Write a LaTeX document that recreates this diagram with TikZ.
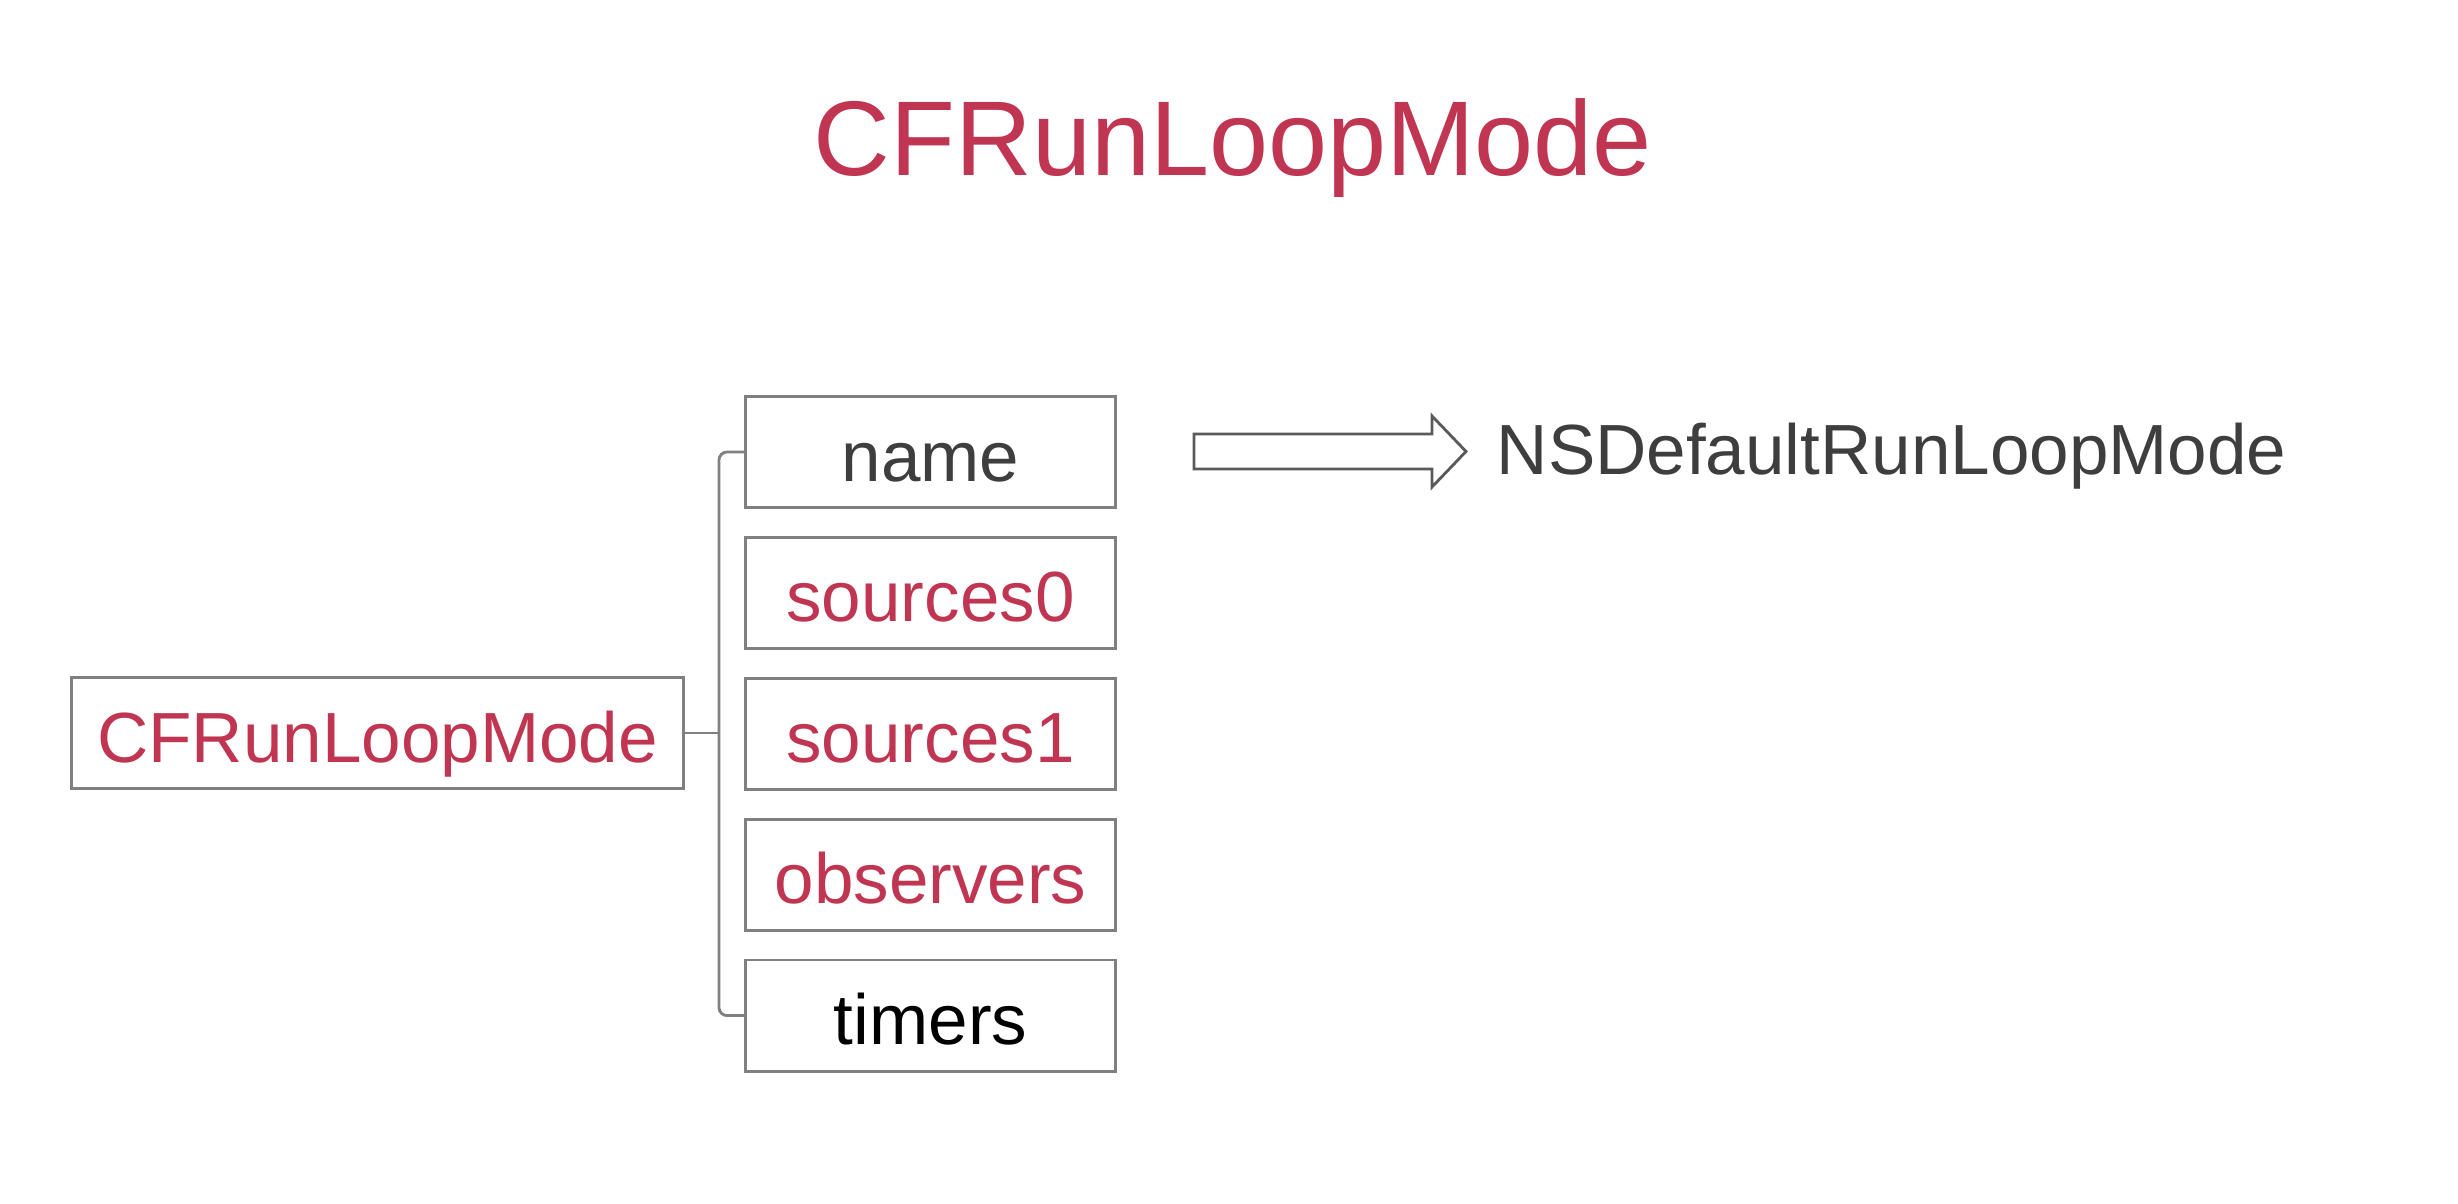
\documentclass[tikz,border=0pt]{standalone}
\usepackage{fontspec}
\setmainfont{Liberation Sans}
\usetikzlibrary{positioning}
\definecolor{modered}{RGB}{192,54,82}
\definecolor{boxgray}{RGB}{128,128,128}
\definecolor{textgray}{RGB}{62,62,62}
\definecolor{arrowgray}{RGB}{90,90,90}

\begin{document}
\begin{tikzpicture}[x=0.01cm, y=-0.01cm,
  field/.style={draw=boxgray, line width=0.8pt, minimum width=3.69cm, minimum height=1.11cm, inner sep=0pt, text height=0.58cm, text depth=0cm, font=\fontsize{20.2pt}{24pt}\selectfont},
  brace/.style={draw=boxgray, line width=0.8pt, rounded corners=0.08cm},
  hollowarrow/.style={draw=arrowgray, line width=0.8pt, line join=miter}]
\useasboundingbox[fill=white] (0,0) rectangle (2458,1204);
%title
\node [anchor=base, inner sep=0pt, text=modered, font=\fontsize{30.2pt}{36pt}\selectfont] (title) at (1233,176) {CFRunLoopMode};
%fields of the mode
\node [field, text=textgray] (name) at (930.5,452) {name};
\node [field, text=modered, below=0.27cm of name] (src0) {sources0};
\node [field, text=modered, below=0.27cm of src0] (src1) {sources1};
\node [field, text=modered, below=0.27cm of src1] (obs) {observers};
\node [field, text=black, below=0.27cm of obs] (timers) {timers};
\node [field, text=modered, minimum width=6.11cm] (mode) at (377.5,733) {CFRunLoopMode};
%brace
\coordinate (bx) at (719,0);
\draw [brace] (name.west) -- (name.west -| bx) -- (timers.west -| bx) -- (timers.west);
\draw [brace] (mode.east) -- (mode.east -| bx);
%arrow to the name value
\draw [hollowarrow] (1194,434) -- (1432,434) -- (1432,416) -- (1466,451.5) -- (1432,487) -- (1432,469) -- (1194,469) -- cycle;
\node [anchor=base west, inner sep=0pt, text=textgray, font=\fontsize{20.2pt}{24pt}\selectfont] (value) at (1496,475) {NSDefaultRunLoopMode};
\end{tikzpicture}
\end{document}
